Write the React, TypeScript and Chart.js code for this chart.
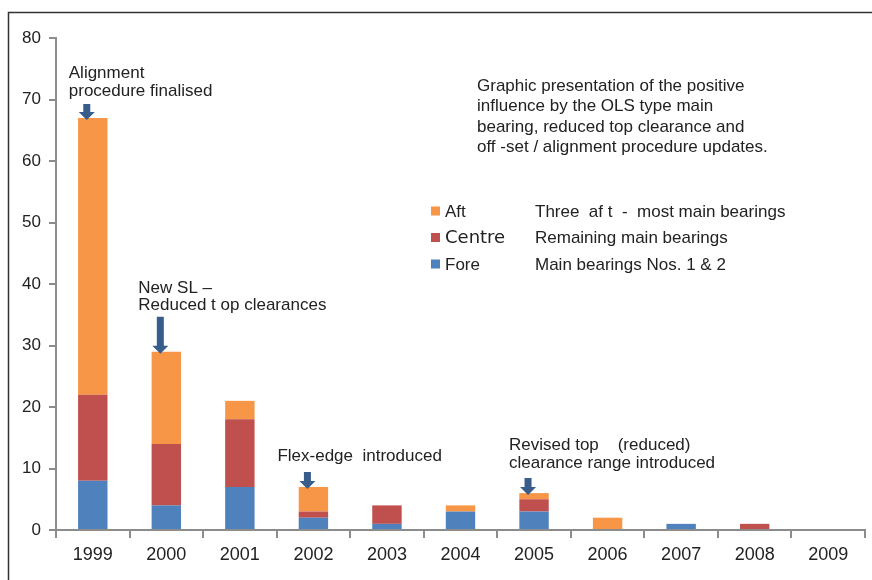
import React, { useEffect, useRef } from "react";
import { Chart, registerables } from "chart.js";

Chart.register(...registerables);

const years = ["1999", "2000", "2001", "2002", "2003", "2004", "2005", "2006", "2007", "2008", "2009"];
const fore = [8, 4, 7, 2, 1, 3, 3, 0, 1, 0, 0];
const centre = [14, 10, 11, 1, 3, 0, 2, 0, 0, 1, 0];
const aft = [45, 15, 3, 4, 0, 1, 1, 2, 0, 0, 0];
const yTicks = [0, 10, 20, 30, 40, 50, 60, 70, 80];

const seriesNames = ["Fore", "Centre", "Aft"];
const seriesColors = ["#4F81BD", "#C0504D", "#F79646"];
const legendDescriptions = ["Main bearings Nos. 1 & 2", "Remaining main bearings", "Three  af t  -  most main bearings"];

const infoLines = [
  "Graphic presentation of the positive",
  "influence by the OLS type main",
  "bearing, reduced top clearance and",
  "off -set / alignment procedure updates.",
];

const annotations = [
  { index: 0, lines: ["Alignment", "procedure finalised"], dx: -24, arrowLen: 16, gap: 5 },
  { index: 1, lines: ["New SL \u2013", "Reduced t op clearances"], dx: -28, arrowLen: 37, gap: 3 },
  { index: 3, lines: ["Flex-edge  introduced"], dx: -36, arrowLen: 17, gap: 8 },
  { index: 6, lines: ["Revised top    (reduced)", "clearance range introduced"], dx: -25, arrowLen: 17, gap: 7 },
];

const FONT = "'Liberation Sans', Arial, sans-serif";
const ARROW = "#385D8A";

const overlayPlugin = {
  id: "overlay",
  afterDraw(chart: any) {
    const ctx = chart.ctx as CanvasRenderingContext2D;
    const xs = chart.scales.x;
    const ys = chart.scales.y;
    ctx.save();
    // frame
    ctx.strokeStyle = "#333";
    ctx.lineWidth = 1.5;
    ctx.beginPath();
    ctx.moveTo(8.5, 580);
    ctx.lineTo(8.5, 12.5);
    ctx.lineTo(872, 12.5);
    ctx.stroke();

    // annotations
    ctx.textBaseline = "middle";
    ctx.textAlign = "left";
    annotations.forEach((a) => {
      const total = fore[a.index] + centre[a.index] + aft[a.index];
      const cx = xs.getPixelForValue(a.index);
      const tipY = ys.getPixelForValue(total) + 2;
      const ax = cx - 6;
      const topY = tipY - a.arrowLen;
      const headH = 8;
      const shaftW = 7;
      const headW = 16;
      ctx.fillStyle = ARROW;
      ctx.beginPath();
      ctx.moveTo(ax - shaftW / 2, topY);
      ctx.lineTo(ax + shaftW / 2, topY);
      ctx.lineTo(ax + shaftW / 2, tipY - headH);
      ctx.lineTo(ax + headW / 2, tipY - headH);
      ctx.lineTo(ax, tipY);
      ctx.lineTo(ax - headW / 2, tipY - headH);
      ctx.lineTo(ax - shaftW / 2, tipY - headH);
      ctx.closePath();
      ctx.fill();
      ctx.fillStyle = "#222";
      ctx.font = `17px ${FONT}`;
      const n = a.lines.length;
      a.lines.forEach((line, i) => {
        const y = topY - a.gap - (n - 1 - i) * 17.5 - 8;
        ctx.fillText(line, cx + a.dx, y);
      });
    });

    // info paragraph
    ctx.fillStyle = "#222";
    ctx.font = `17px ${FONT}`;
    infoLines.forEach((line, i) => {
      ctx.fillText(line, 477, 86 + i * 20.5);
    });

    // legend (Aft, Centre, Fore top to bottom)
    const order = [2, 1, 0];
    order.forEach((di, row) => {
      const ds = chart.data.datasets[di];
      const cy = 211 + row * 26.5;
      ctx.fillStyle = ds.backgroundColor;
      ctx.fillRect(431, cy - 4.5, 9, 9);
      ctx.fillStyle = "#222";
      if (ds.label === "Centre") {
        ctx.font = `18px 'DejaVu Sans', ${FONT}`;
      } else {
        ctx.font = `17px ${FONT}`;
      }
      ctx.fillText(ds.label, 445, cy + 1);
      ctx.font = `17px ${FONT}`;
      ctx.fillText(legendDescriptions[di], 535, cy + 1);
    });
    ctx.restore();
  },
};

export default function App() {
  const ref = useRef<HTMLCanvasElement>(null);
  useEffect(() => {
    if (!ref.current) return;
    const values = [fore, centre, aft];
    const chart = new Chart(ref.current, {
      type: "bar",
      data: {
        labels: years,
        datasets: seriesNames.map((name, i) => ({
          label: name,
          data: values[i],
          backgroundColor: seriesColors[i],
          borderWidth: 0,
          barPercentage: 0.4,
          categoryPercentage: 1,
        })),
      },
      options: {
        responsive: false,
        animation: false,
        devicePixelRatio: 1,
        layout: { padding: { left: 0, right: 7, top: 38, bottom: 0 } },
        plugins: { legend: { display: false }, tooltip: { enabled: false } },
        scales: {
          x: {
            stacked: true,
            grid: {
              display: true,
              drawOnChartArea: false,
              drawTicks: true,
              tickLength: 8,
              color: "#8C8C8C",
              lineWidth: 2,
              offset: true,
            },
            border: { display: true, color: "#8C8C8C", width: 2 },
            ticks: { color: "#222", font: { family: FONT, size: 18 }, padding: 6, maxRotation: 0 },
            afterFit: (s: any) => {
              s.height = 50;
            },
          },
          y: {
            stacked: true,
            min: 0,
            max: 80,
            afterBuildTicks: (s: any) => {
              s.ticks = yTicks.map((v) => ({ value: v }));
            },
            grid: {
              display: true,
              drawOnChartArea: false,
              drawTicks: true,
              tickLength: 7,
              color: "#8C8C8C",
              lineWidth: 2,
            },
            border: { display: true, color: "#8C8C8C", width: 2 },
            ticks: { color: "#222", font: { family: FONT, size: 17 }, padding: 8 },
            afterFit: (s: any) => {
              s.width = 56;
            },
          },
        },
      },
      plugins: [overlayPlugin],
    });
    return () => chart.destroy();
  }, []);
  return (
    <div style={{ position: "absolute", left: 0, top: 0, width: 872, height: 580, background: "#fff" }}>
      <canvas ref={ref} width={872} height={580} style={{ width: 872, height: 580, display: "block" }} />
    </div>
  );
}
